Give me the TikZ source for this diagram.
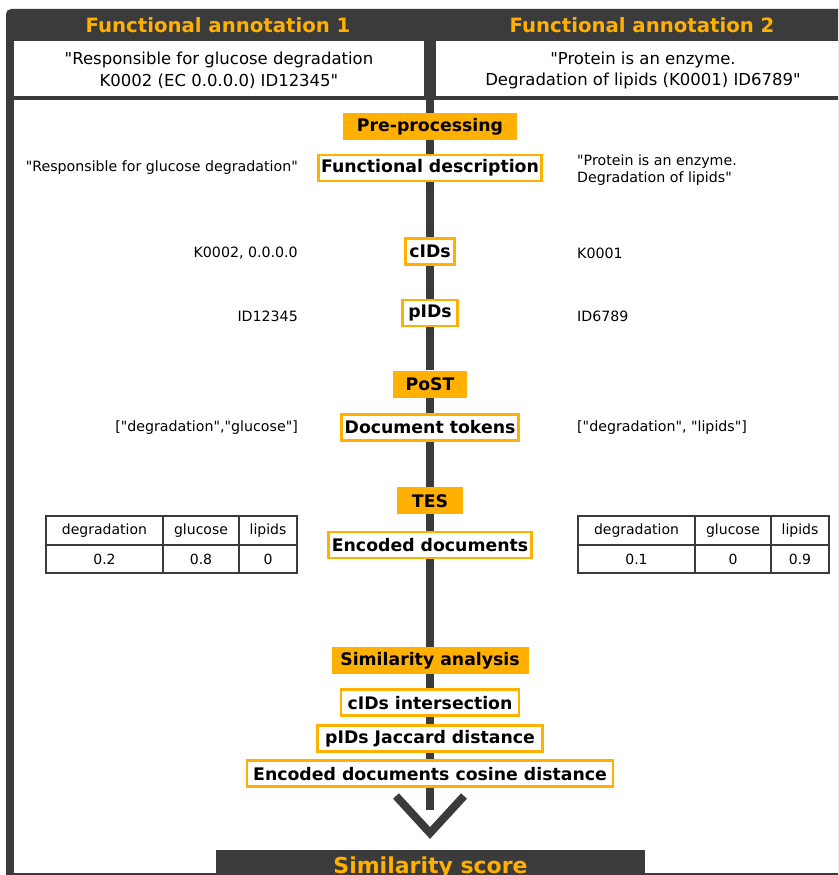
\documentclass[tikz,border=0pt]{standalone}
\usepackage{fontspec}
\setmainfont{DejaVu Sans}[Ligatures=TeXOff]
\definecolor{dark}{HTML}{3B3B3B}
\definecolor{amber}{HTML}{FFB000}
\tikzset{
  title/.style={text=amber, font=\bfseries\fontsize{19.7}{23}\selectfont, anchor=base, inner sep=0pt},
  quote/.style={align=center, font=\fontsize{16.5}{21.7}\selectfont, inner sep=0pt},
  side/.style={font=\fontsize{14.2}{17.2}\selectfont, inner sep=0pt},
  stage/.style={fill=amber, font=\bfseries\fontsize{17.3}{20}\selectfont, inner sep=0pt, minimum height=27pt},
  result/.style={draw=amber, line width=2.8pt, fill=white, font=\bfseries\fontsize{17.3}{20}\selectfont, inner sep=0pt, minimum height=26pt},
  cell/.style={draw=dark, line width=2pt, font=\fontsize{14}{17}\selectfont, inner sep=0pt},
  spine/.style={draw=dark, line width=8pt},
  scorebox/.style={fill=dark, text=amber, font=\bfseries\fontsize{22}{26}\selectfont, inner sep=0pt, minimum width=429pt, minimum height=36pt},
}
\begin{document}
\begin{tikzpicture}[x=1pt,y=-1pt]
\useasboundingbox (0,0) rectangle (838,875);
\clip (0,0) rectangle (838,875);
% frame
\fill[dark, rounded corners=5pt] (6,9) rectangle (870,895);
\fill[white] (14,41) rectangle (424,95.5);
\fill[white] (436,41) rectangle (870,95.5);
\fill[white] (14,99.5) rectangle (870,873);
% headers
\node[title] (title1) at (218,32.7) {Functional annotation 1};
\node[title] (title2) at (642,32.7) {Functional annotation 2};
\node[quote] (quote1) at (219,70.5) {"Responsible for glucose degradation\\K0002 (EC 0.0.0.0) ID12345"};
\node[quote] (quote2) at (643,70.5) {"Protein is an enzyme.\\Degradation of lipids (K0001) ID6789"};
% stages
\node[stage, minimum width=174pt] (prep) at (430,126.3) {Pre-processing};
\node[result, minimum width=223pt] (fdesc) at (430,168) {Functional description};
\node[result, minimum width=49.7pt] (cids) at (430,251.5) {cIDs};
\node[result, minimum width=55pt] (pids) at (430,313) {pIDs};
\node[stage, minimum width=74pt] (post) at (430,384) {PoST};
\node[result, minimum width=177pt] (doctok) at (430,427.3) {Document tokens};
\node[stage, minimum width=66pt] (tes) at (430,500.7) {TES};
\node[result, minimum width=203pt] (encdoc) at (430,545) {Encoded documents};
\node[stage, minimum width=197pt] (simana) at (430,660.7) {Similarity analysis};
\node[result, minimum width=178pt] (cidsint) at (430,702.7) {cIDs intersection};
\node[result, minimum width=224.5pt] (pidsjac) at (430,738.3) {pIDs Jaccard distance};
\node[result, minimum width=366pt] (encos) at (430,773.8) {Encoded documents cosine distance};
% spine
\coordinate (spinetop) at (430,99.5);
\coordinate (spinebot) at (430,810);
\draw[spine] (spinetop) -- (prep);
\draw[spine] (prep) -- (fdesc);
\draw[spine] (fdesc) -- (cids);
\draw[spine] (cids) -- (pids);
\draw[spine] (pids) -- (post);
\draw[spine] (post) -- (doctok);
\draw[spine] (doctok) -- (tes);
\draw[spine] (tes) -- (encdoc);
\draw[spine] (encdoc) -- (simana);
\draw[spine] (simana) -- (cidsint);
\draw[spine] (cidsint) -- (pidsjac);
\draw[spine] (pidsjac) -- (encos);
\draw[spine] (encos) -- (spinebot);
% chevron
\coordinate (chl) at (396,796);
\coordinate (chapex) at (430,833);
\coordinate (chr) at (464,796);
\draw[dark, line width=8pt, miter limit=10] (chl) -- (chapex) -- (chr);
% score
\node[scorebox] (score) at (430.5,868) {Similarity score};
% side texts left
\node[side, anchor=east] (l1) at (298,168) {"Responsible for glucose degradation"};
\node[side, anchor=east] (l2) at (298,253) {K0002, 0.0.0.0};
\node[side, anchor=east] (l3) at (298,316) {ID12345};
\node[side, anchor=east] (l4) at (298,428) {["degradation","glucose"]};
% side texts right
\node[side, anchor=west, align=left] (r1) at (577,170) {"Protein is an enzyme.\\Degradation of lipids"};
\node[side, anchor=west] (r2) at (577,253) {K0001};
\node[side, anchor=west] (r3) at (577,316) {ID6789};
\node[side, anchor=west] (r4) at (577,428) {["degradation", "lipids"]};
% left table
\node[cell, minimum width=117pt, minimum height=29pt] (lt11) at (104.5,530.5) {degradation};
\node[cell, minimum width=76pt, minimum height=29pt] (lt12) at (201,530.5) {glucose};
\node[cell, minimum width=58pt, minimum height=29pt] (lt13) at (268,530.5) {lipids};
\node[cell, minimum width=117pt, minimum height=28pt] (lt21) at (104.5,559) {0.2};
\node[cell, minimum width=76pt, minimum height=28pt] (lt22) at (201,559) {0.8};
\node[cell, minimum width=58pt, minimum height=28pt] (lt23) at (268,559) {0};
% right table
\node[cell, minimum width=117pt, minimum height=29pt] (rt11) at (636.5,530.5) {degradation};
\node[cell, minimum width=76pt, minimum height=29pt] (rt12) at (733,530.5) {glucose};
\node[cell, minimum width=58pt, minimum height=29pt] (rt13) at (800,530.5) {lipids};
\node[cell, minimum width=117pt, minimum height=28pt] (rt21) at (636.5,559) {0.1};
\node[cell, minimum width=76pt, minimum height=28pt] (rt22) at (733,559) {0};
\node[cell, minimum width=58pt, minimum height=28pt] (rt23) at (800,559) {0.9};
\end{tikzpicture}
\end{document}
